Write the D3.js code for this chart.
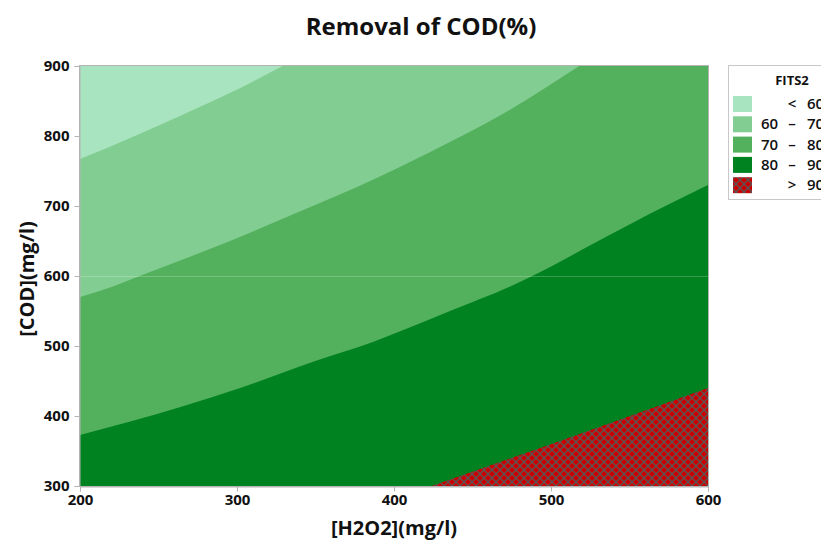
<!DOCTYPE html>
<html>
<head>
<meta charset="utf-8">
<script src="https://cdn.jsdelivr.net/npm/d3@7"></script>
<style>
  body { margin: 0; background: #fff; }
  svg text { font-family: "Open Sans", "Noto Sans", sans-serif; fill: #111; }
</style>
</head>
<body>
<div id="chart"></div>
<script>
// contour boundaries, as [H2O2, COD] pairs
const edge60 = [[200, 767], [232, 797], [264, 829], [296, 862], [329, 900]];
const edge70 = [[200, 570], [221, 585], [238, 600], [290, 645], [340, 692], [391, 742], [430, 785], [465, 826], [518, 900]];
const edge80 = [[200, 373], [264, 413], [302, 440], [349, 478], [387, 506], [404, 521], [438, 552], [474, 585], [489, 601], [531, 651], [563, 689], [600, 730]];
const edge90 = [[424, 300], [499, 359], [600, 440]];

const levelLabels = [["", "<", "60"], ["60", "–", "70"], ["70", "–", "80"], ["80", "–", "90"], ["", ">", "90"]];
const levelColors = ["#a8e4bf", "#82cd92", "#53b05c", "#008220", "#cc0000"];

const xTicks = [200, 300, 400, 500, 600];
const yTicks = [300, 400, 500, 600, 700, 800, 900];

const width = 821, height = 541;
const margin = {top: 66, right: 113, bottom: 55, left: 80};
const plotW = width - margin.left - margin.right;
const plotH = height - margin.top - margin.bottom;

const svg = d3.select("#chart").append("svg")
    .attr("width", width)
    .attr("height", height);

// cross hatch for the top band
const p = 8;
const defs = svg.append("defs");
const pat = defs.append("pattern")
    .attr("id", "hatch")
    .attr("patternUnits", "userSpaceOnUse")
    .attr("width", p)
    .attr("height", p);
pat.append("rect").attr("width", p).attr("height", p).attr("fill", levelColors[4]);
pat.append("path")
    .attr("d", `M-1,-1 L${p + 1},${p + 1} M${p + 1},-1 L-1,${p + 1}`)
    .attr("stroke", "#5e5252")
    .attr("stroke-width", 1.4)
    .attr("fill", "none");

const g = svg.append("g").attr("transform", `translate(${margin.left},${margin.top})`);

const xScale = d3.scaleLinear().domain([200, 600]).range([0, plotW]);
const yScale = d3.scaleLinear().domain([300, 900]).range([plotH, 0]);

const line = d3.line()
    .x(d => xScale(d[0]))
    .y(d => yScale(d[1]))
    .curve(d3.curveMonotoneX);
const straight = d3.line().x(d => xScale(d[0])).y(d => yScale(d[1]));

// close each boundary against the lower right part of the plot
function region(edge) {
    const close = [];
    const last = edge[edge.length - 1];
    if (last[1] >= 900) close.push([600, 900]);
    close.push([600, 300]);
    if (edge[0][0] <= 200) close.push([200, 300]);
    return line(edge) + straight([last].concat(close)).replace("M", "L") + "Z";
}

g.append("rect")
    .attr("width", plotW)
    .attr("height", plotH)
    .attr("fill", levelColors[0]);

[edge60, edge70, edge80].forEach((e, i) => {
    g.append("path")
        .attr("d", region(e))
        .attr("fill", levelColors[i + 1]);
});
g.append("path")
    .attr("d", region(edge90))
    .attr("fill", "url(#hatch)");

// faint gridline at 600
g.append("line")
    .attr("x1", 0).attr("x2", plotW)
    .attr("y1", yScale(600) + 0.5).attr("y2", yScale(600) + 0.5)
    .attr("stroke", "#fff")
    .attr("stroke-opacity", 0.22);

// frame
g.append("rect")
    .attr("x", -0.5).attr("y", -0.5)
    .attr("width", plotW + 1).attr("height", plotH + 1)
    .attr("fill", "none")
    .attr("stroke", "#b4b4b4");

// axes
const xAxis = g.append("g")
    .attr("transform", `translate(0,${plotH + 0.5})`)
    .call(d3.axisBottom(xScale).tickValues(xTicks).tickSize(5).tickPadding(3));
const yAxis = g.append("g")
    .attr("transform", "translate(-0.5,0)")
    .call(d3.axisLeft(yScale).tickValues(yTicks).tickSize(5).tickPadding(5));
[xAxis, yAxis].forEach(a => {
    a.selectAll("path, line").attr("stroke", "#b4b4b4");
    a.selectAll("text")
        .style("font-size", "15px")
        .style("font-weight", "bold")
        .style("fill", "#111");
});

// title and axis labels
svg.append("text")
    .attr("x", 421)
    .attr("y", 35)
    .attr("text-anchor", "middle")
    .style("font-size", "24px")
    .style("font-weight", "bold")
    .text("Removal of COD(%)");

svg.append("text")
    .attr("x", 394)
    .attr("y", 535)
    .attr("text-anchor", "middle")
    .style("font-size", "20px")
    .style("font-weight", "bold")
    .text("[H2O2](mg/l)");

svg.append("text")
    .attr("transform", "translate(34,279) rotate(-90)")
    .attr("text-anchor", "middle")
    .style("font-size", "20px")
    .style("font-weight", "bold")
    .text("[COD](mg/l)");

// legend
const legend = svg.append("g");
legend.append("rect")
    .attr("x", 728.5).attr("y", 65.5)
    .attr("width", 120).attr("height", 134)
    .attr("fill", "#fff")
    .attr("stroke", "#c8c8c8");
legend.append("text")
    .attr("x", 792)
    .attr("y", 85)
    .attr("text-anchor", "middle")
    .style("font-size", "13px")
    .style("font-weight", "bold")
    .text("FITS2");

levelLabels.forEach((lab, i) => {
    const y0 = 96 + i * 20.3;
    legend.append("rect")
        .attr("x", 733).attr("y", y0)
        .attr("width", 19).attr("height", 16)
        .attr("fill", i === 4 ? "url(#hatch)" : levelColors[i]);
    const ty = y0 + 13;
    legend.append("text").attr("x", 761).attr("y", ty)
        .style("font-size", "15px").style("font-weight", "600").text(lab[0]);
    legend.append("text").attr("x", 792).attr("y", ty).attr("text-anchor", "middle")
        .style("font-size", "15px").style("font-weight", "600").text(lab[1]);
    legend.append("text").attr("x", 807).attr("y", ty)
        .style("font-size", "15px").style("font-weight", "600").text(lab[2]);
});
</script>
</body>
</html>
